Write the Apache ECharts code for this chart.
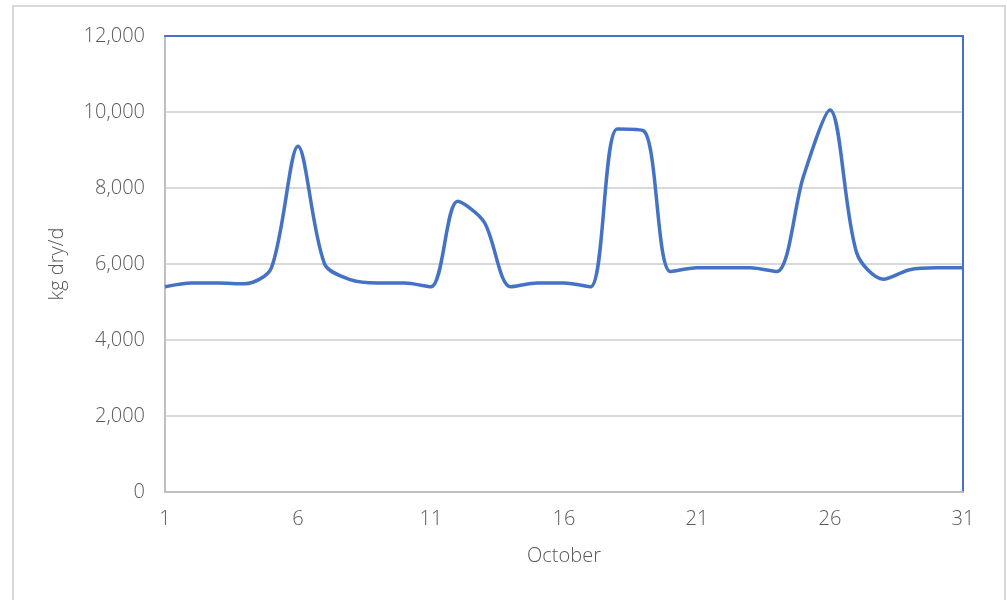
<!DOCTYPE html>
<html>
<head>
<meta charset="utf-8">
<script src="https://cdn.jsdelivr.net/npm/echarts@6/dist/echarts.min.js"></script>
<style>
  html, body { margin: 0; padding: 0; background: #fff; }
  #chart { width: 1007px; height: 600px; }
</style>
</head>
<body>
<div id="chart"></div>
<script>
// day of October
const days = [1, 2, 3, 4, 5, 6, 7, 8, 9, 10, 11, 12, 13, 14, 15, 16,
  17, 18, 19, 20, 21, 22, 23, 24, 25, 26, 27, 28, 29, 30, 31]
// kg dry/d
const load = [5400, 5500, 5500, 5480, 5900, 9100, 6000, 5580, 5500, 5500, 5400,
  7650, 7100, 5400, 5500, 5500, 5400, 9550, 9500, 5800, 5900, 5900, 5900,
  5800, 8300, 10050, 6300, 5600, 5850, 5900, 5900]

const chart = echarts.init(document.getElementById('chart'))
const labelFont = { color: '#595959', fontSize: 20, fontFamily: 'Open Sans', fontWeight: 300 }

chart.setOption({
  animation: false,
  graphic: [
    {
      type: 'rect',
      shape: { x: 13, y: 6, width: 992, height: 620 },
      style: { fill: null, stroke: '#d9d9d9', lineWidth: 2 }
    }
  ],
  grid: { left: 165, right: 44, top: 36, bottom: 108 },
  xAxis: [
    {
      type: 'value',
      min: 1,
      max: 31,
      interval: 5,
      name: 'October',
      nameLocation: 'middle',
      nameGap: 54,
      nameTextStyle: labelFont,
      axisLine: { lineStyle: { color: '#bfbfbf', width: 2 } },
      axisTick: { show: false },
      splitLine: { show: false },
      axisLabel: Object.assign({ margin: 17 }, labelFont)
    },
    {
      type: 'value',
      position: 'top',
      min: 1,
      max: 31,
      axisLine: { show: true, onZero: false, lineStyle: { color: '#4472c4', width: 2 } },
      axisTick: { show: false },
      axisLabel: { show: false },
      splitLine: { show: false }
    }
  ],
  yAxis: [
    {
      type: 'value',
      min: 0,
      max: 12000,
      interval: 2000,
      name: 'kg dry/d',
      nameLocation: 'middle',
      nameGap: 98,
      nameTextStyle: labelFont,
      axisLine: { show: true, onZero: false, lineStyle: { color: '#bfbfbf', width: 2 } },
      axisTick: { show: false },
      splitLine: { lineStyle: { color: '#d9d9d9', width: 2 } },
      axisLabel: Object.assign({
        margin: 20,
        formatter: v => v.toLocaleString('en-US')
      }, labelFont)
    },
    {
      type: 'value',
      position: 'right',
      min: 0,
      max: 12000,
      axisLine: { show: true, onZero: false, lineStyle: { color: '#4472c4', width: 2 } },
      axisTick: { show: false },
      axisLabel: { show: false },
      splitLine: { show: false }
    }
  ],
  series: [
    {
      type: 'line',
      data: days.map((d, i) => [d, load[i]]),
      smooth: 0.3,
      showSymbol: false,
      lineStyle: { color: '#4472c4', width: 3.5 },
      itemStyle: { color: '#4472c4' }
    }
  ]
})
</script>
</body>
</html>
